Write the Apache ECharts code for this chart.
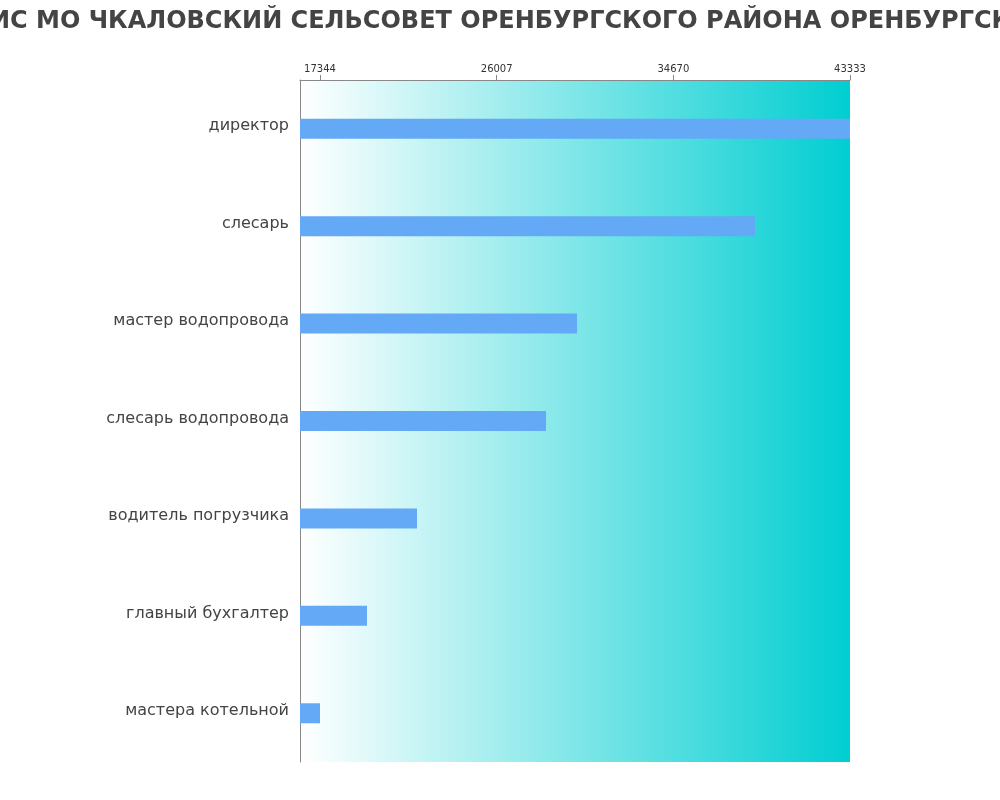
<!DOCTYPE html>
<html>
<head>
<meta charset="utf-8">
<script src="https://cdn.jsdelivr.net/npm/echarts@6/dist/echarts.min.js"></script>
<style>html,body{margin:0;padding:0;background:#fff}#c{width:1000px;height:800px}</style>
</head>
<body>
<div id="c"></div>
<script>
var titlePrefix = 'МУП ЖИЛСЕРВИС ';
var titleRest = 'МО ЧКАЛОВСКИЙ СЕЛЬСОВЕТ ОРЕНБУРГСКОГО РАЙОНА ОРЕНБУРГСКОЙ ОБЛАСТИ';
var categories = ['директор', 'слесарь', 'мастер водопровода', 'слесарь водопровода', 'водитель погрузчика', 'главный бухгалтер', 'мастера котельной'];
var values = [43333, 38676, 29947, 28427, 22101, 19649, 17344];
var tickValues = [17344, 26007, 34670, 43333];
var axisMin = 16363;
var axisMax = 43333;

var titleSize = 24;
var ctx = document.createElement('canvas').getContext('2d');
ctx.font = 'bold ' + titleSize + 'px "DejaVu Sans"';
var prefixW = ctx.measureText(titlePrefix).width;

var chart = echarts.init(document.getElementById('c'));
chart.setOption({
  animation: false,
  title: {
    text: titlePrefix + titleRest,
    left: 31 - prefixW,
    top: 5,
    textStyle: { fontFamily: 'DejaVu Sans', fontWeight: 'bold', fontSize: titleSize, color: '#444' }
  },
  grid: {
    left: 300, right: 150, top: 80, bottom: 38,
    show: true, borderWidth: 0,
    backgroundColor: new echarts.graphic.LinearGradient(0, 0, 1, 0, [
      { offset: 0, color: '#ffffff' },
      { offset: 1, color: '#00ced1' }
    ])
  },
  xAxis: {
    type: 'value',
    position: 'top',
    min: axisMin,
    max: axisMax,
    splitLine: { show: false },
    axisLine: { show: true, lineStyle: { color: '#888' } },
    axisTick: { show: true, customValues: tickValues, length: 5, lineStyle: { color: '#888' } },
    axisLabel: { customValues: tickValues, formatter: function (v) { return String(v); }, fontFamily: 'DejaVu Sans', fontSize: 10, color: '#333', margin: 6 }
  },
  yAxis: {
    type: 'category',
    data: categories,
    inverse: true,
    axisLine: { show: true, lineStyle: { color: '#888' } },
    axisTick: { show: false },
    axisLabel: { fontFamily: 'DejaVu Sans', fontSize: 16, color: '#444', margin: 11, verticalAlign: 'bottom', lineHeight: 5 }
  },
  series: [{
    type: 'bar',
    data: values,
    barWidth: 20,
    itemStyle: { color: '#64a9f5' }
  }]
});
</script>
</body>
</html>
